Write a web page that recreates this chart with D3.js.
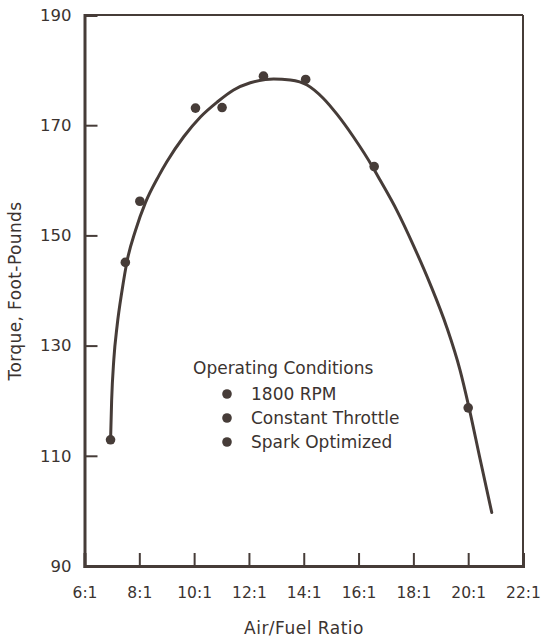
<!DOCTYPE html>
<html>
<head>
<meta charset="utf-8">
<script src="https://cdn.jsdelivr.net/npm/d3@7/dist/d3.min.js"></script>
<style>
  html, body { margin: 0; padding: 0; background: #ffffff; }
  svg { display: block; }
  text { font-family: "DejaVu Sans", "Liberation Sans", Arial, sans-serif; fill: #3b3330; }
</style>
</head>
<body>
<script>
// ---- data ----
const ratioTicks = [6, 8, 10, 12, 14, 16, 18, 20, 22];
const ratioTickLabels = ["6:1", "8:1", "10:1", "12:1", "14:1", "16:1", "18:1", "20:1", "22:1"];
const torqueTicks = [90, 110, 130, 150, 170, 190];

// measured points
const pointRatio  = [6.95, 7.49, 8.02, 10.05, 11.02, 12.53, 14.07, 16.57, 20.0];
const pointTorque = [112.9, 145.1, 156.2, 173.1, 173.2, 178.9, 178.3, 162.5, 118.7];

// fitted curve
const curveRatio  = [6.95, 6.99, 7.07, 7.19, 7.37, 7.56, 7.86, 8.22, 8.71, 9.01, 9.62, 10.23, 10.84, 11.44, 12.05, 12.60, 12.90, 13.51, 14.12, 14.71, 15.21, 15.81, 16.54, 16.79, 17.40, 18.00, 18.61, 19.22, 19.70, 20.01, 20.43, 20.86];
const curveTorque = [112.7, 120.0, 127.5, 133.6, 140.0, 145.5, 150.9, 155.9, 160.8, 163.4, 167.9, 171.5, 174.2, 176.4, 177.7, 178.3, 178.4, 178.2, 177.3, 174.9, 172.0, 167.9, 162.2, 160.0, 154.5, 148.2, 141.2, 133.3, 125.6, 119.2, 109.5, 99.7];

const legendTitle = "Operating Conditions";
const legendItems = ["1800 RPM", "Constant Throttle", "Spark Optimized"];

// ---- layout ----
const W = 542, H = 639;
const ink = "#463c38";
const svg = d3.select("body").append("svg").attr("width", W).attr("height", H);

const x = d3.scaleLinear().domain([6, 22]).range([84.5, 523]);
const y = d3.scaleLinear().domain([90, 190]).range([566, 15]);

// frame: top and right thinner
svg.append("line").attr("x1", x(6)).attr("x2", x(22)).attr("y1", y(190)).attr("y2", y(190))
  .attr("stroke", ink).attr("stroke-width", 2);
svg.append("line").attr("x1", x(22)).attr("x2", x(22)).attr("y1", y(190)).attr("y2", y(90))
  .attr("stroke", ink).attr("stroke-width", 2);

const tickFont = '"DejaVu Sans", "Liberation Sans", Arial, sans-serif';

// y axis
const yAxis = d3.axisLeft(y).tickValues(torqueTicks).tickSize(-13).tickPadding(13).tickFormat(d3.format("d"));
const gy = svg.append("g").attr("transform", `translate(${x(6)},0)`).call(yAxis);
gy.select(".domain").attr("stroke", ink).attr("stroke-width", 3);
gy.selectAll(".tick line").attr("stroke", ink).attr("stroke-width", 2)
  .filter(d => d === 90 || d === 190).remove();
gy.selectAll(".tick text").style("font-size", "16.5px").attr("fill", "#3b3330")
  .style("font-family", tickFont);

// x axis
const xAxis = d3.axisBottom(x).tickValues(ratioTicks).tickSize(-13).tickPadding(21)
  .tickFormat((d, i) => ratioTickLabels[i]);
const gx = svg.append("g").attr("transform", `translate(0,${y(90)})`).call(xAxis);
gx.select(".domain").attr("stroke", ink).attr("stroke-width", 3);
gx.selectAll(".tick line").attr("stroke", ink).attr("stroke-width", 2)
  .filter(d => d === 6 || d === 22).remove();
gx.selectAll(".tick text").style("font-size", "15.5px").attr("fill", "#3b3330")
  .style("font-family", tickFont);

// axis titles
svg.append("text").attr("x", 304).attr("y", 634).attr("text-anchor", "middle")
  .style("font-size", "17px").style("letter-spacing", "0.5px").text("Air/Fuel Ratio");
svg.append("text").attr("transform", "translate(21,291) rotate(-90)").attr("text-anchor", "middle")
  .style("font-size", "17px").style("letter-spacing", "0.4px").text("Torque, Foot-Pounds");

// curve
const curveData = curveRatio.map((r, i) => [r, curveTorque[i]]);
const line = d3.line().x(d => x(d[0])).y(d => y(d[1])).curve(d3.curveMonotoneX);
svg.append("path").datum(curveData).attr("d", line)
  .attr("fill", "none").attr("stroke", ink).attr("stroke-width", 3).attr("stroke-linecap", "round");

// points
const pts = pointRatio.map((r, i) => [r, pointTorque[i]]);
svg.append("g").selectAll("circle").data(pts).join("circle")
  .attr("cx", d => x(d[0])).attr("cy", d => y(d[1])).attr("r", 4.8).attr("fill", ink);

// legend
const lg = svg.append("g");
lg.append("text").attr("x", 193).attr("y", 374).style("font-size", "17px").text(legendTitle);
legendItems.forEach((t, i) => {
  const cy = 394 + i * 24;
  lg.append("circle").attr("cx", 227).attr("cy", cy).attr("r", 4.8).attr("fill", ink);
  lg.append("text").attr("x", 251).attr("y", cy + 6).style("font-size", "17px").text(t);
});
</script>
</body>
</html>
